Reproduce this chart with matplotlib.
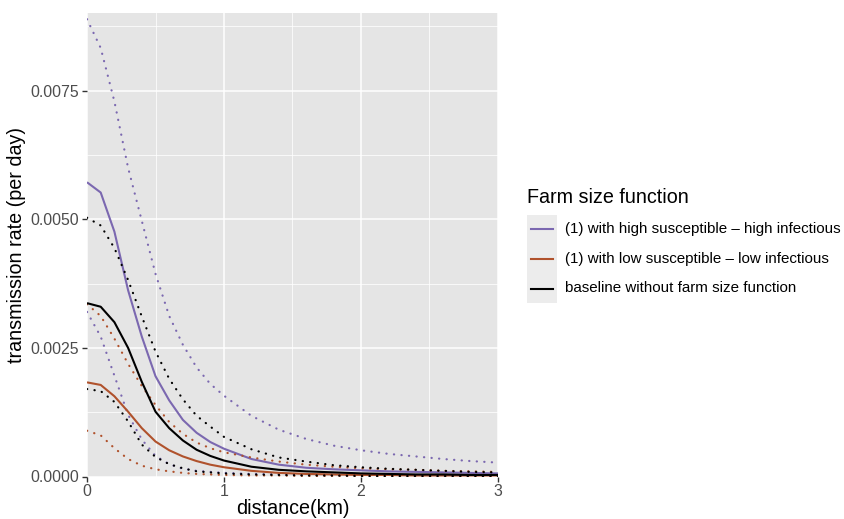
import matplotlib
matplotlib.use('Agg')
from matplotlib import pyplot as plt
from matplotlib.lines import Line2D
from matplotlib.patches import Rectangle

plt.rcParams['font.family'] = ['Liberation Sans', 'DejaVu Sans']

# distance (km)
distance = [0, 0.1, 0.2, 0.3, 0.4, 0.5, 0.6, 0.7, 0.8, 0.9, 1.0,
            1.2, 1.4, 1.6, 1.8, 2.0, 2.2, 2.4, 2.6, 2.8, 3.0]

# (1) high susceptible - high infectious
hh_mean = [0.00572, 0.00552, 0.00476, 0.00362, 0.00272, 0.00195, 0.00148, 0.00110, 0.00085, 0.00067, 0.00054,
           0.00034, 0.00023, 0.00017, 0.00014, 0.00012, 0.00010, 0.00009, 0.00008, 0.00007, 0.00006]
hh_upper = [0.00889, 0.00833, 0.00729, 0.00600, 0.00497, 0.00394, 0.00312, 0.00256, 0.00212, 0.00180, 0.00157,
            0.00118, 0.00091, 0.00073, 0.00060, 0.00051, 0.00044, 0.00039, 0.00034, 0.00030, 0.00027]
hh_lower = [0.00320, 0.00272, 0.00196, 0.00120, 0.00072, 0.00040, 0.00024, 0.00015, 0.00011, 0.00009, 0.00007,
            0.00005, 0.00004, 0.00003, 0.00003, 0.00002, 0.00002, 0.00002, 0.00001, 0.00001, 0.00001]

# (1) low susceptible - low infectious
ll_mean = [0.00183, 0.00178, 0.00156, 0.00126, 0.00094, 0.00068, 0.00051, 0.00039, 0.00030, 0.00023, 0.00018,
           0.00011, 0.00007, 0.00005, 0.00004, 0.00003, 0.00003, 0.00002, 0.00002, 0.00002, 0.00002]
ll_upper = [0.00335, 0.00312, 0.00268, 0.00219, 0.00176, 0.00139, 0.00106, 0.00083, 0.00066, 0.00055, 0.00047,
            0.00037, 0.00029, 0.00023, 0.00019, 0.00016, 0.00014, 0.00013, 0.00011, 0.00010, 0.00009]
ll_lower = [0.00089, 0.00080, 0.00055, 0.00034, 0.00021, 0.00014, 0.00010, 0.00007, 0.00005, 0.00004, 0.00003,
            0.00002, 0.00002, 0.00001, 0.00001, 0.00001, 0.00001, 0.00001, 0.00001, 0.00001, 0.00001]

# baseline without farm size function
base_mean = [0.00337, 0.00330, 0.00300, 0.00250, 0.00184, 0.00126, 0.00094, 0.00070, 0.00052, 0.00040, 0.00031,
             0.00019, 0.00013, 0.00010, 0.00008, 0.00006, 0.00005, 0.00004, 0.00004, 0.00003, 0.00003]
base_upper = [0.00503, 0.00488, 0.00444, 0.00382, 0.00311, 0.00243, 0.00190, 0.00150, 0.00118, 0.00097, 0.00077,
              0.00053, 0.00037, 0.00029, 0.00022, 0.00018, 0.00015, 0.00013, 0.00011, 0.00009, 0.00008]
base_lower = [0.00170, 0.00166, 0.00145, 0.00107, 0.00062, 0.00038, 0.00024, 0.00016, 0.00010, 0.00008, 0.00006,
              0.00004, 0.00003, 0.00002, 0.00002, 0.00001, 0.00001, 0.00001, 0.00001, 0.00001, 0.00001]

labels = ['(1) with high susceptible \u2013 high infectious',
          '(1) with low susceptible \u2013 low infectious',
          'baseline without farm size function']
colors = ['#7b68b0', '#b0522c', '#000000']

x_ticks = [0, 1, 2, 3]
y_ticks = [0.0, 0.0025, 0.0050, 0.0075]
y_tick_labels = ['0.0000', '0.0025', '0.0050', '0.0075']

W, H = 845, 519
fig = plt.figure(figsize=(W / 100, H / 100), dpi=100)
ax = fig.add_axes([87 / W, 1 - 476.5 / H, (498 - 87) / W, (476.5 - 13) / H])
ax.set_facecolor('#e5e5e5')
for s in ax.spines.values():
    s.set_visible(False)

groups = [(hh_mean, hh_upper, hh_lower), (ll_mean, ll_upper, ll_lower),
          (base_mean, base_upper, base_lower)]
dot = (0, (0.1, 3.3))
for (m, up, lo), c in zip(groups, colors):
    ax.plot(distance, m, color=c, lw=1.5, solid_capstyle='butt', zorder=3)
    ax.plot(distance, up, color=c, lw=1.6, ls=dot, dash_capstyle='round', zorder=3)
    ax.plot(distance, lo, color=c, lw=1.6, ls=dot, dash_capstyle='round', zorder=3)

ax.set_xlim(0, 3)
ax.set_ylim(0, 0.00901)
ax.set_xticks(x_ticks)
ax.set_xticklabels([str(v) for v in x_ticks])
ax.set_yticks(y_ticks)
ax.set_yticklabels(y_tick_labels)
ax.set_xticks([0.5, 1.5, 2.5], minor=True)
ax.set_yticks([0.00125, 0.00375, 0.00625, 0.00875], minor=True)
ax.grid(which='major', color='white', lw=1.1)
ax.grid(which='minor', color='white', lw=0.55)
ax.set_axisbelow(True)
ax.tick_params(which='major', length=3.5, width=1.0, color='#333333',
               labelsize=11.4, labelcolor='#4d4d4d', pad=2)
ax.tick_params(which='minor', length=0)

fig.text(293 / W, 1 - 499 / H, 'distance(km)', ha='center', va='top', fontsize=14.2)
fig.text(17 / W, 1 - 245 / H, 'transmission rate (per day)', ha='center', va='center',
         rotation=90, fontsize=14.2)

# legend
fig.text(527 / W, 1 - 198 / H, 'Farm size function', ha='left', va='center', fontsize=14.2)
fig.patches.append(Rectangle((527 / W, 1 - 303 / H), 30 / W, 88 / H,
                             transform=fig.transFigure, facecolor='#ececec', edgecolor='none'))
for i, (lab, c) in enumerate(zip(labels, colors)):
    yy = 1 - (229.5 + 29.5 * i) / H
    fig.lines.append(Line2D([531 / W, 553 / W], [yy, yy], transform=fig.transFigure,
                            color=c, lw=1.5))
    fig.text(565 / W, yy, lab, ha='left', va='center', fontsize=10.9)

fig.savefig('out.png', dpi=100)
